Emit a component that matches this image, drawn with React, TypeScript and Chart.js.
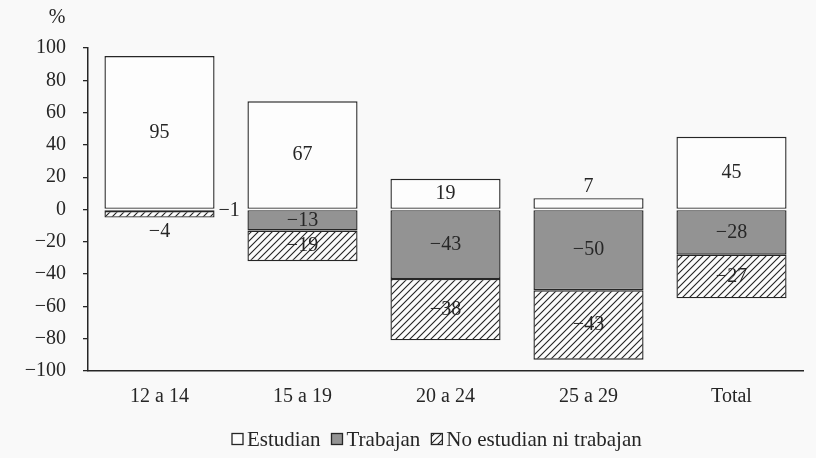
import React, { useEffect, useRef } from "react";
import { Chart, registerables } from "chart.js";

Chart.register(...registerables);

const categories = ["12 a 14", "15 a 19", "20 a 24", "25 a 29", "Total"];
const estudian = [95, 67, 19, 7, 45];
const trabajan = [-1, -13, -43, -50, -28];
const noEstudian = [-4, -19, -38, -43, -27];
const seriesNames = ["Estudian", "Trabajan", "No estudian ni trabajan"];
const yMin = -100;
const yMax = 100;
const yStep = 20;
const unitLabel = "%";

const FONT = "'Liberation Serif', 'Times New Roman', serif";
const INK = "#262626";
const WHITE_FILL = "#fdfdfd";
const GRAY_FILL = "#939393";

function fmt(v: number): string {
  return v < 0 ? "\u2212" + Math.abs(v) : String(v);
}

function makeHatch(): CanvasPattern | string {
  const c = document.createElement("canvas");
  const s = 7;
  c.width = s;
  c.height = s;
  const g = c.getContext("2d");
  if (!g) return "#ccc";
  g.fillStyle = "#fbfbfb";
  g.fillRect(0, 0, s, s);
  g.strokeStyle = "#222";
  g.lineWidth = 1.1;
  g.beginPath();
  g.moveTo(0, s);
  g.lineTo(s, 0);
  g.moveTo(-1, 1);
  g.lineTo(1, -1);
  g.moveTo(s - 1, s + 1);
  g.lineTo(s + 1, s - 1);
  g.stroke();
  const p = g.createPattern(c, "repeat");
  return p || "#ccc";
}

export default function App() {
  const ref = useRef<HTMLCanvasElement | null>(null);

  useEffect(() => {
    const canvas = ref.current;
    if (!canvas) return;
    const hatch = makeHatch();
    const fills = [WHITE_FILL, GRAY_FILL, hatch];

    const bgPlugin = {
      id: "bg",
      beforeDraw(chart: any) {
        const ctx = chart.ctx;
        ctx.save();
        ctx.fillStyle = "#f9f9f9";
        ctx.fillRect(0, 0, chart.width, chart.height);
        ctx.restore();
      },
    };

    const labelPlugin = {
      id: "valueLabels",
      afterDatasetsDraw(chart: any) {
        const ctx = chart.ctx;
        ctx.save();
        ctx.font = `20px ${FONT}`;
        ctx.fillStyle = INK;
        ctx.textBaseline = "middle";
        chart.data.datasets.forEach((ds: any, di: number) => {
          const meta = chart.getDatasetMeta(di);
          meta.data.forEach((el: any, i: number) => {
            const v = ds.data[i] as number;
            const top = Math.min(el.y, el.base);
            const bot = Math.max(el.y, el.base);
            const h = bot - top;
            let x = el.x;
            let y = (top + bot) / 2;
            ctx.textAlign = "center";
            if (h < 15) {
              if (di === 0) {
                y = top - 11;
              } else if (di === 1) {
                x = el.x + el.width / 2 + 4;
                ctx.textAlign = "left";
              } else {
                y = bot + 14;
              }
            }
            ctx.fillText(fmt(v), x, y);
          });
        });
        // unit label
        ctx.textAlign = "center";
        ctx.fillText(unitLabel, 57, 18);
        ctx.restore();
      },
    };

    const legendPlugin = {
      id: "customLegend",
      afterDraw(chart: any) {
        const ctx = chart.ctx;
        ctx.save();
        ctx.font = `21px ${FONT}`;
        ctx.textBaseline = "middle";
        ctx.textAlign = "left";
        const box = 11;
        const yMid = 439;
        let x = 232;
        seriesNames.forEach((name, i) => {
          ctx.fillStyle = fills[i] as any;
          ctx.fillRect(x, yMid - box / 2, box, box);
          ctx.strokeStyle = INK;
          ctx.lineWidth = 1.3;
          ctx.strokeRect(x, yMid - box / 2, box, box);
          ctx.fillStyle = INK;
          ctx.fillText(name, x + box + 4, yMid + 1);
          x += box + 4 + ctx.measureText(name).width + 11;
        });
        ctx.restore();
      },
    };

    const chart = new Chart(canvas, {
      type: "bar",
      data: {
        labels: categories,
        datasets: [
          { label: seriesNames[0], data: estudian, backgroundColor: fills[0] as any },
          { label: seriesNames[1], data: trabajan, backgroundColor: fills[1] as any },
          { label: seriesNames[2], data: noEstudian, backgroundColor: fills[2] as any },
        ].map((d) => ({
          ...d,
          borderColor: INK,
          borderWidth: 1.4,
          borderSkipped: false as any,
          barPercentage: 0.77,
          categoryPercentage: 1,
        })),
      },
      options: {
        responsive: false,
        animation: false,
        layout: { padding: { top: 48, right: 13, left: 0, bottom: 0 } },
        plugins: {
          legend: { display: false },
          tooltip: { enabled: false },
        },
        scales: {
          x: {
            stacked: true,
            grid: { display: false },
            border: { display: true, color: INK, width: 1.5 },
            ticks: { font: { family: FONT, size: 20 }, color: INK, padding: 6 },
            afterFit: (s: any) => {
              s.height = 458 - 371;
            },
          },
          y: {
            stacked: true,
            min: yMin,
            max: yMax,
            ticks: {
              stepSize: yStep,
              font: { family: FONT, size: 20 },
              color: INK,
              padding: 17,
              callback: (v: any) => fmt(Number(v)),
            },
            grid: {
              drawOnChartArea: false,
              drawTicks: true,
              tickLength: 5,
              color: INK,
              lineWidth: 1.3,
            },
            border: { display: true, color: INK, width: 1.5 },
            afterFit: (s: any) => {
              s.width = 88;
            },
          },
        },
      },
      plugins: [bgPlugin, labelPlugin, legendPlugin],
    });

    return () => chart.destroy();
  }, []);

  return (
    <div style={{ position: "fixed", left: 0, top: 0, width: 816, height: 458 }}>
      <canvas ref={ref} width={816} height={458} style={{ width: 816, height: 458 }} />
    </div>
  );
}
